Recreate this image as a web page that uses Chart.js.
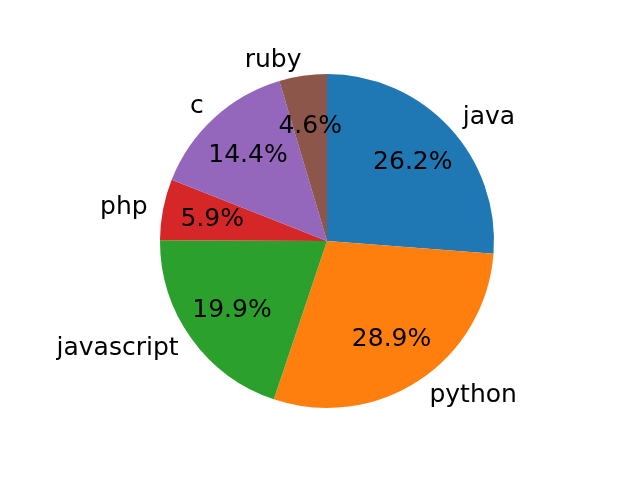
<!DOCTYPE html>
<html>
<head>
<meta charset="utf-8">
<script src="https://cdn.jsdelivr.net/npm/chart.js@4/dist/chart.umd.min.js"></script>
<style>
html,body{margin:0;padding:0;background:#fff;}
#wrap{width:640px;height:480px;position:relative;}
</style>
</head>
<body>
<div id="wrap"><canvas id="c" width="640" height="480"></canvas></div>
<script>
const categories = ["java", "python", "javascript", "php", "c", "ruby"];
const shares = [26.2, 28.9, 19.9, 5.9, 14.4, 4.6];
const colors = ["#1f77b4", "#ff7f0e", "#2ca02c", "#d62728", "#9467bd", "#8c564b"];

const FONT = '25px "DejaVu Sans"';

const pieLabels = {
  id: 'pieLabels',
  afterDatasetsDraw(chart) {
    const ctx = chart.ctx;
    const meta = chart.getDatasetMeta(0);
    const data = chart.data.datasets[0].data;
    const total = data.reduce((a, b) => a + b, 0);
    ctx.save();
    ctx.font = FONT;
    ctx.fillStyle = '#000';
    ctx.textBaseline = 'middle';
    meta.data.forEach((arc, i) => {
      const p = arc.getProps(['x', 'y', 'startAngle', 'endAngle', 'outerRadius'], true);
      const mid = (p.startAngle + p.endAngle) / 2;
      const c = Math.cos(mid), s = Math.sin(mid);
      // category label at 1.1 radius
      const lx = p.x + p.outerRadius * 1.1 * c;
      const ly = p.y + p.outerRadius * 1.1 * s + 1;
      ctx.textAlign = c > 0 ? 'left' : 'right';
      ctx.fillText(chart.data.labels[i], lx + 1, ly);
      // percentage at 0.7 radius
      const px = p.x + p.outerRadius * 0.7 * c;
      const py = p.y + p.outerRadius * 0.7 * s + 1;
      ctx.textAlign = 'center';
      ctx.fillText((data[i] / total * 100).toFixed(1) + '%', px, py);
    });
    ctx.restore();
  }
};

new Chart(document.getElementById('c'), {
  type: 'pie',
  data: {
    labels: categories,
    datasets: [{
      data: shares,
      backgroundColor: colors,
      borderWidth: 0
    }]
  },
  options: {
    responsive: false,
    animation: false,
    layout: { padding: { left: 160, right: 146, top: 74, bottom: 72 } },
    plugins: {
      legend: { display: false },
      title: { display: false },
      tooltip: { enabled: false }
    }
  },
  plugins: [pieLabels]
});
</script>
</body>
</html>
